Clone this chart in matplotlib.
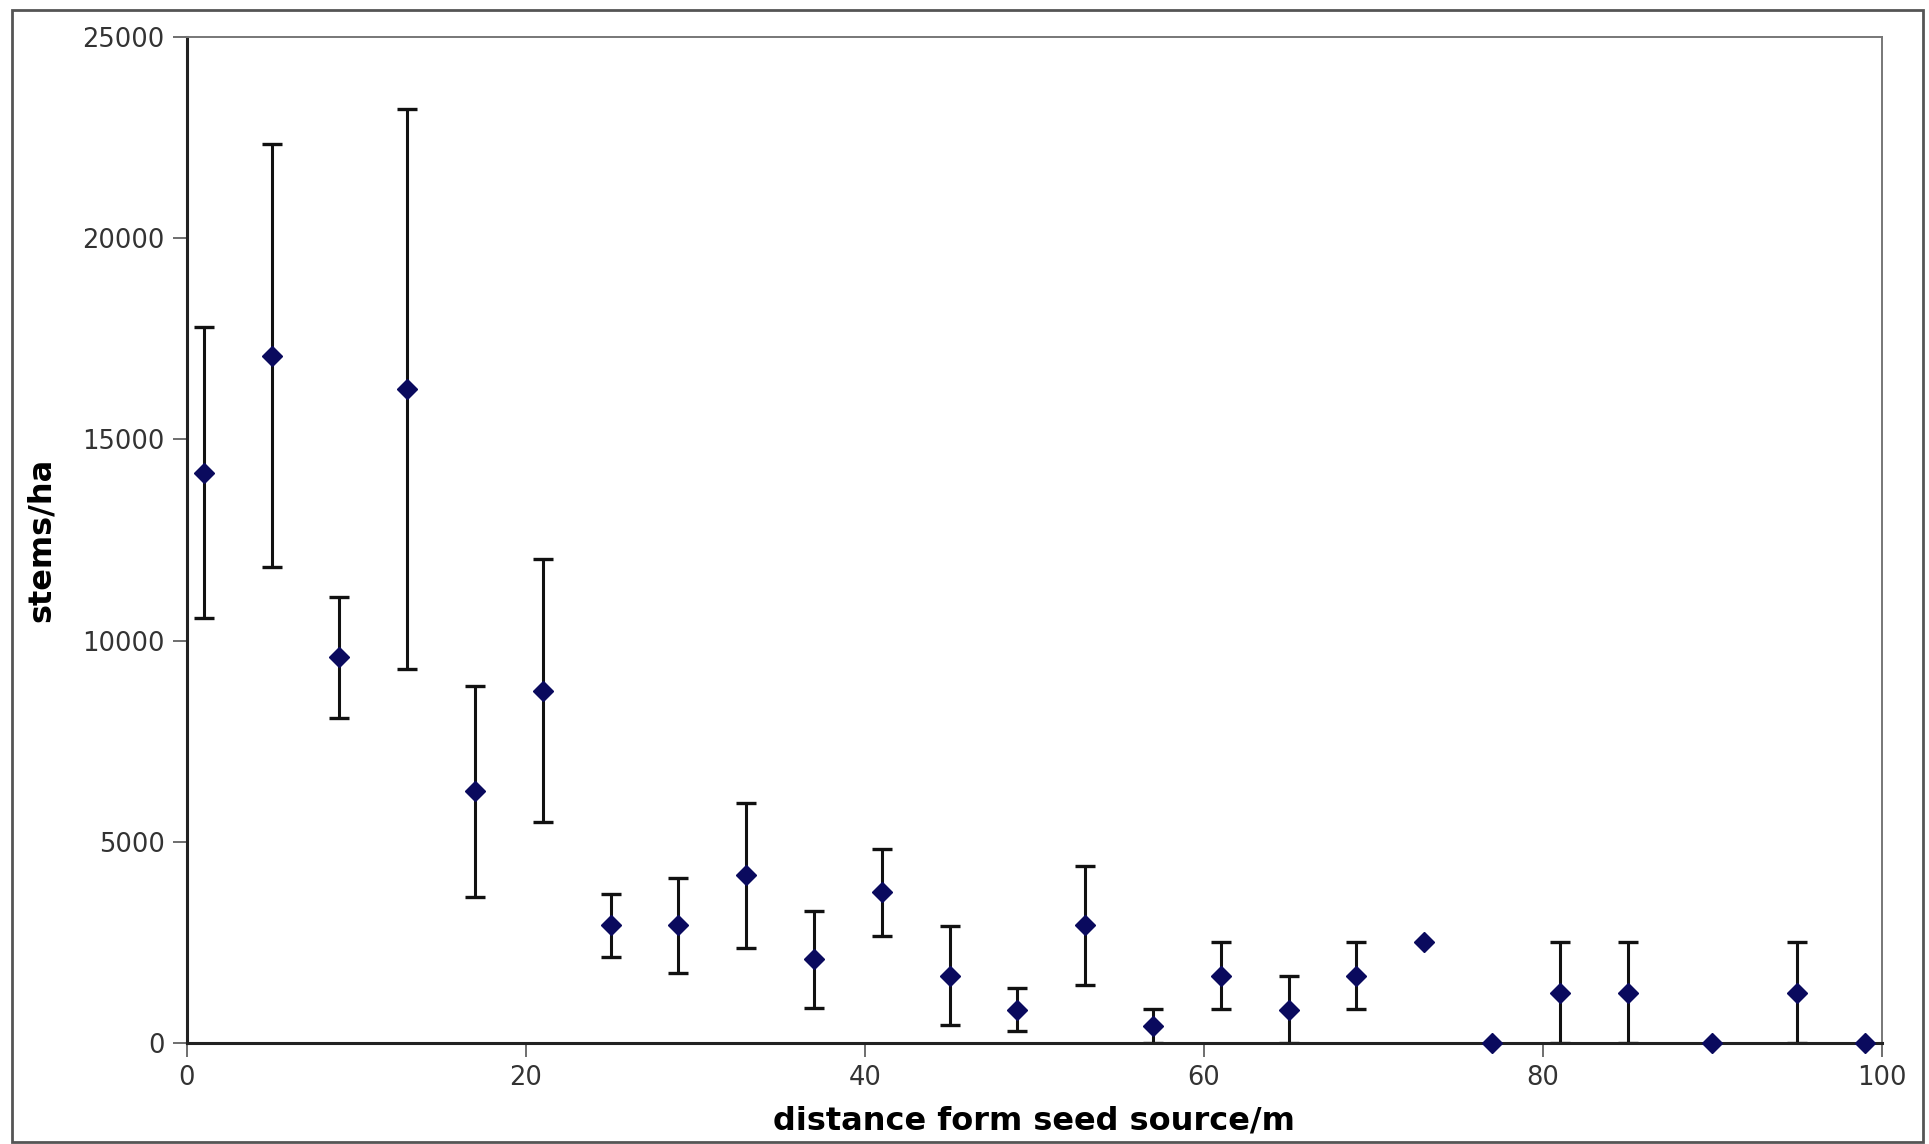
import matplotlib
matplotlib.use("Agg")
import matplotlib.pyplot as plt
from matplotlib.patches import Rectangle

# distance from seed source (m) and stems/ha with error bar half-widths
distance = [1, 5, 9, 13, 17, 21, 25, 29, 33, 37, 41, 45, 49, 53, 57, 61, 65, 69, 73, 77, 81, 85, 90, 95, 99]
stems = [14170, 17080, 9580, 16250, 6250, 8750, 2920, 2920, 4170, 2080, 3750, 1670, 830, 2920, 420,
         1670, 830, 1670, 2500, 0, 1250, 1250, 0, 1250, 0]
err_hi = [3620, 5260, 1500, 6950, 2630, 3270, 780, 1180, 1800, 1200, 1080, 1230, 540, 1480, 420,
          830, 830, 830, 0, 0, 1250, 1250, 0, 1250, 0]
err_lo = [3620, 5260, 1500, 6950, 2630, 3270, 780, 1180, 1800, 1200, 1080, 1230, 540, 1480, 420,
          830, 830, 830, 0, 0, 1250, 1250, 0, 1250, 0]

x_ticks = [0, 20, 40, 60, 80, 100]
y_ticks = [0, 5000, 10000, 15000, 20000, 25000]

fig = plt.figure(figsize=(19.29, 11.44), dpi=100)
ax = fig.add_axes([0.0969, 0.0883, 0.8787, 0.8794])

# error bars only where there is a spread
has_err = [i for i in range(len(distance)) if err_hi[i] > 0]
ax.errorbar([distance[i] for i in has_err], [stems[i] for i in has_err],
            yerr=[[err_lo[i] for i in has_err], [err_hi[i] for i in has_err]],
            fmt='none', ecolor='#111111', elinewidth=2.2, capsize=7, capthick=2.4, zorder=2)
ax.plot(distance, stems, linestyle='none', marker='D', markersize=10,
        color='#0a0a5e', zorder=3, clip_on=False)

ax.set_xlim(0, 100)
ax.set_ylim(0, 25000)
ax.set_xticks(x_ticks)
ax.set_yticks(y_ticks)
ax.tick_params(axis='both', direction='out', length=10, width=1.2, color='#555555',
               labelsize=18.5, labelcolor='#333333', pad=6)

for side in ['left', 'bottom']:
    ax.spines[side].set_linewidth(2.2)
    ax.spines[side].set_color('#222222')
for side in ['top', 'right']:
    ax.spines[side].set_linewidth(1.4)
    ax.spines[side].set_color('#777777')

ax.set_xlabel('distance form seed source/m', fontsize=23, fontweight='bold', labelpad=10)
ax.set_ylabel('stems/ha', fontsize=23, fontweight='bold', labelpad=18)

# thin frame around the whole picture
fig.patches.append(Rectangle((12 / 1929, 2 / 1144), 1911 / 1929, 1132 / 1144,
                             transform=fig.transFigure, fill=False,
                             edgecolor='#555555', linewidth=2))

fig.savefig('out.png', dpi=100)
